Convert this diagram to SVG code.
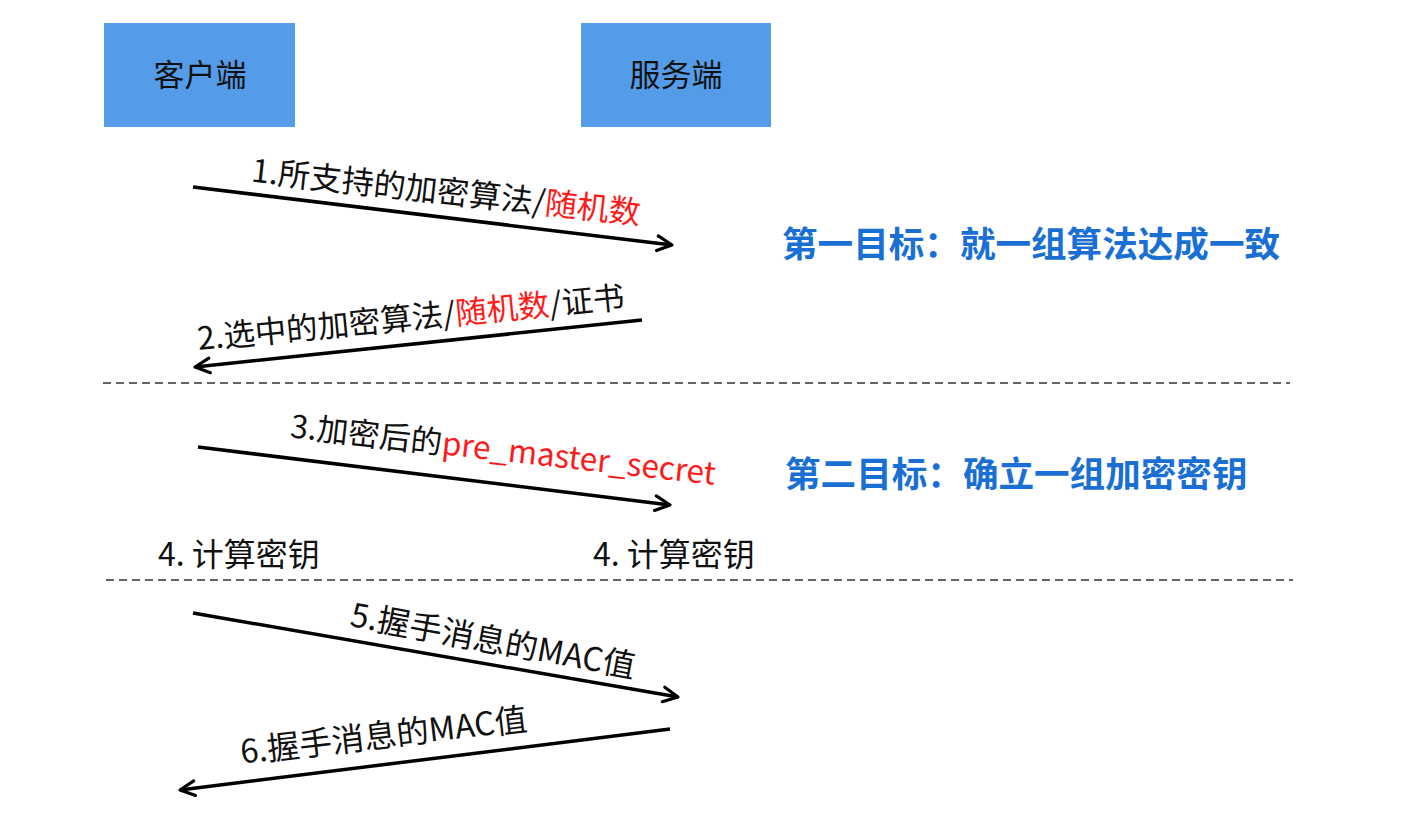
<svg xmlns="http://www.w3.org/2000/svg" width="1424" height="814" viewBox="0 0 1424 814">
<style>
.box{fill:#559ce8;}
.t{font-family:"Noto Sans CJK SC","Noto Sans",sans-serif;fill:#111;}
.red{fill:#ff1a1a;}
.goal{font-family:"Noto Sans CJK SC","Noto Sans",sans-serif;font-weight:bold;fill:#1a6fd4;font-size:35.6px;}
.arr{stroke:#000;stroke-width:3.5;fill:none;marker-end:url(#ah);}
.dash{stroke:#333;stroke-width:1.6;stroke-dasharray:8 5;fill:none;}
</style>
<defs>
<marker id="ah" viewBox="0 0 20 20" refX="17" refY="10" markerWidth="6" markerHeight="6" markerUnits="strokeWidth" orient="auto">
<path d="M3,3 L17,10 L3,17" stroke="#000" stroke-width="3" fill="none" stroke-linecap="round" stroke-linejoin="round"/>
</marker>
</defs>
<rect width="1424" height="814" fill="#fff"/>
<g id="client">
<rect class="box" x="104" y="23" width="191" height="104"/>
<text class="t" x="200" y="86" font-size="31" text-anchor="middle">客户端</text>
</g>
<g id="server">
<rect class="box" x="581" y="23" width="190" height="104"/>
<text class="t" x="676" y="86" font-size="31" text-anchor="middle">服务端</text>
</g>
<g id="connectors">
<line class="arr" x1="193" y1="187" x2="672" y2="245"/>
<line class="arr" x1="642" y1="320" x2="195" y2="367"/>
<line class="arr" x1="198" y1="447" x2="670" y2="505"/>
<line class="arr" x1="193" y1="613" x2="678" y2="697"/>
<line class="arr" x1="670" y1="729" x2="180" y2="790"/>
<line class="dash" x1="103" y1="383" x2="1290" y2="383"/>
<line class="dash" x1="106" y1="580" x2="1293" y2="580"/>
</g>
<g id="labels">
<text class="t" font-size="32" text-anchor="middle" transform="translate(445,203) rotate(6.3)">1.所支持的加密算法/<tspan class="red">随机数</tspan></text>
<text class="t" font-size="31.5" text-anchor="middle" transform="translate(412,329) rotate(-5.6)">2.选中的加密算法/<tspan class="red">随机数</tspan>/证书</text>
<text class="t" font-size="31.5" text-anchor="middle" transform="translate(502,461) rotate(6.4)">3.加密后的<tspan class="red">pre_master_secret</tspan></text>
<text class="t" font-size="32" x="158" y="566">4. 计算密钥</text>
<text class="t" font-size="32" x="593" y="566">4. 计算密钥</text>
<text class="t" font-size="32.5" text-anchor="middle" transform="translate(491,652) rotate(10.5)">5.握手消息的MAC值</text>
<text class="t" font-size="32.5" text-anchor="middle" transform="translate(385,747) rotate(-6.6)">6.握手消息的MAC值</text>
</g>
<g id="goals">
<text class="goal" x="782" y="257">第一目标：就一组算法达成一致</text>
<text class="goal" x="785" y="487">第二目标：确立一组加密密钥</text>
</g>
</svg>
